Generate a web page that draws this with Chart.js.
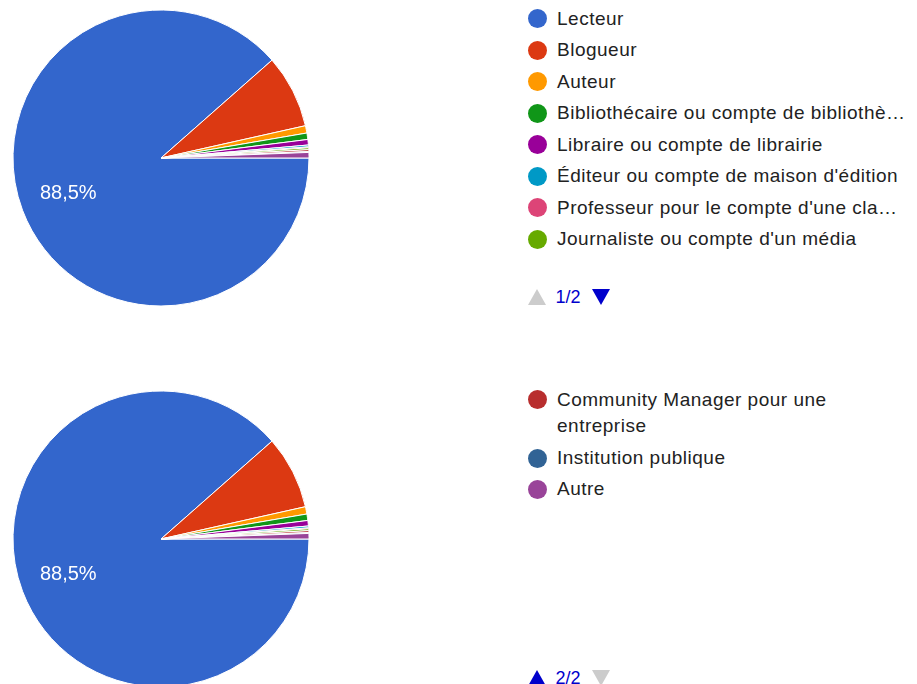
<!DOCTYPE html>
<html>
<head>
<meta charset="utf-8">
<script src="https://cdn.jsdelivr.net/npm/chart.js@4"></script>
<style>
  body { margin: 0; width: 917px; height: 684px; overflow: hidden; background: #fff;
         font-family: 'Liberation Sans', Arial, sans-serif; }
  .block { position: absolute; left: 0; width: 917px; height: 381px; }
  .block canvas { position: absolute; left: 0; top: 0; }
  .legend { position: absolute; left: 528px; top: 5.6px; }
  .item { display: flex; align-items: flex-start; line-height: 26.7px; margin-bottom: 4.8px;
          font-size: 19px; letter-spacing: 0.5px; color: #222; white-space: nowrap; }
  .dot { width: 19px; height: 19px; border-radius: 50%; margin-top: 3.85px; margin-right: 10px; flex: none; }
  .pager { position: absolute; left: 528px; top: 289px; display: flex; align-items: center; }
  .pager span { font-size: 18px; color: #0000cc; margin: 0 11px 0 9.5px; line-height: 16px; }
  .up { width: 0; height: 0; border-left: 9.5px solid transparent; border-right: 9.5px solid transparent; border-bottom: 16px solid; }
  .down { width: 0; height: 0; border-left: 9.5px solid transparent; border-right: 9.5px solid transparent; border-top: 16px solid; }
</style>
</head>
<body>
<div class="block" style="top:0px"><canvas id="pie1" width="322" height="316"></canvas><div class="legend" id="legend1"></div><div class="pager" id="pager1"></div></div>
<div class="block" style="top:381px"><canvas id="pie2" width="322" height="316"></canvas><div class="legend" id="legend2"></div><div class="pager" id="pager2"></div></div>
<script>
// répartition des comptes (en %)
const categories = [
    'Lecteur',
    'Blogueur',
    'Auteur',
    'Bibliothécaire ou compte de bibliothè…',
    'Libraire ou compte de librairie',
    "Éditeur ou compte de maison d'édition",
    "Professeur pour le compte d'une cla…",
    "Journaliste ou compte d'un média",
    ['Community Manager pour une', 'entreprise'],
    'Institution publique',
    'Autre'
];
const shares = [88.5, 8.0, 0.8, 0.7, 0.6, 0.2, 0.1, 0.2, 0.2, 0.1, 0.6];
const palette = ['#3366cc', '#dc3912', '#ff9900', '#109618', '#990099', '#0099c6',
                 '#dd4477', '#66aa00', '#b82e2e', '#316395', '#994499'];
const pageSize = 8;
const pageCount = Math.ceil(categories.length / pageSize);

// pourcentage écrit dans les grandes parts
const pieLabels = {
    id: 'pieLabels',
    afterDatasetsDraw(chart) {
        const ctx = chart.ctx;
        const data = chart.data.datasets[0].data;
        const total = data.reduce((a, b) => a + b, 0);
        chart.getDatasetMeta(0).data.forEach((arc, i) => {
            const share = data[i] / total;
            if (share < 0.1) return;
            const {x, y, startAngle, endAngle, outerRadius} =
                arc.getProps(['x', 'y', 'startAngle', 'endAngle', 'outerRadius'], true);
            const mid = (startAngle + endAngle) / 2;
            const r = outerRadius * 0.67;
            ctx.save();
            ctx.fillStyle = '#fff';
            ctx.font = '20px "Liberation Sans", Arial, sans-serif';
            ctx.textAlign = 'center';
            ctx.textBaseline = 'middle';
            ctx.fillText((share * 100).toFixed(1).replace('.', ',') + '%',
                x + Math.cos(mid) * r, y + Math.sin(mid) * r);
            ctx.restore();
        });
    }
};

function drawPie(id) {
    new Chart(document.getElementById(id), {
        type: 'pie',
        data: {
            labels: categories,
            datasets: [{
                data: shares,
                backgroundColor: palette,
                borderColor: '#fff',
                borderWidth: 1
            }]
        },
        options: {
            responsive: false,
            animation: false,
            rotation: 90,
            radius: 148,
            plugins: {
                legend: { display: false },
                tooltip: { enabled: false }
            }
        },
        plugins: [pieLabels]
    });
}

function drawLegend(page, legendId, pagerId) {
    const box = document.getElementById(legendId);
    for (let i = page * pageSize; i < Math.min(categories.length, (page + 1) * pageSize); i++) {
        const item = document.createElement('div');
        item.className = 'item';
        const dot = document.createElement('div');
        dot.className = 'dot';
        dot.style.background = palette[i];
        const text = document.createElement('div');
        const label = categories[i];
        text.innerHTML = Array.isArray(label) ? label.join('<br>') : label;
        item.appendChild(dot);
        item.appendChild(text);
        box.appendChild(item);
    }
    const pager = document.getElementById(pagerId);
    const up = document.createElement('div');
    up.className = 'up';
    up.style.color = page > 0 ? '#0000cc' : '#cccccc';
    const num = document.createElement('span');
    num.textContent = (page + 1) + '/' + pageCount;
    const down = document.createElement('div');
    down.className = 'down';
    down.style.color = page < pageCount - 1 ? '#0000cc' : '#cccccc';
    pager.appendChild(up);
    pager.appendChild(num);
    pager.appendChild(down);
}

drawPie('pie1');
drawPie('pie2');
drawLegend(0, 'legend1', 'pager1');
drawLegend(1, 'legend2', 'pager2');
</script>
</body>
</html>
